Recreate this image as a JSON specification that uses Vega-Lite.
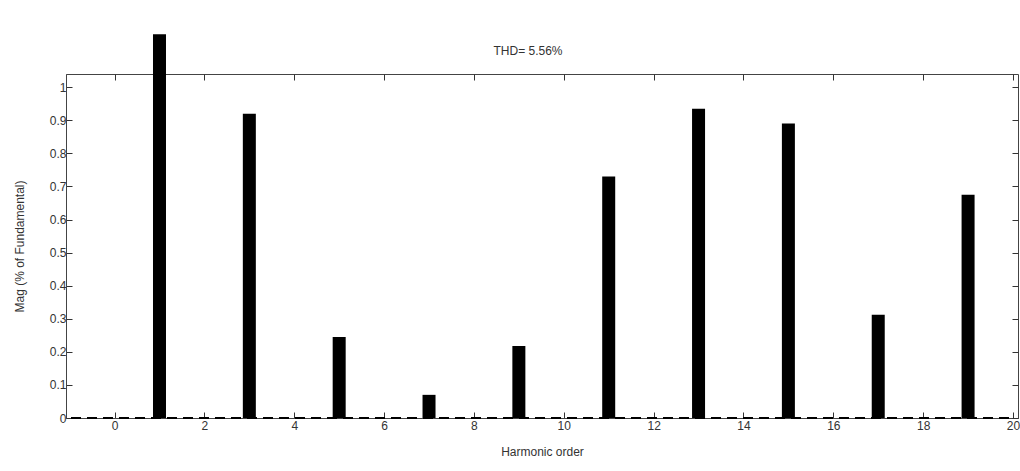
{
  "$schema": "https://vega.github.io/schema/vega-lite/v6.json",
  "width": 952,
  "height": 344,
  "autosize": {"type": "none"},
  "padding": {"left": 66, "top": 74, "right": 2, "bottom": 53},
  "background": "white",
  "config": {
    "font": "Liberation Sans",
    "view": {"stroke": "#444", "strokeWidth": 1},
    "axis": {"grid": false, "domainColor": "#444", "tickColor": "#333", "tickWidth": 1, "labelColor": "#333", "titleColor": "#333", "labelFontSize": 12, "titleFontSize": 12, "titleFontWeight": "normal", "tickSize": -6, "labelPadding": 6}
  },
  "title": {"text": "THD= 5.56%", "fontSize": 12, "fontWeight": "normal", "color": "#333", "font": "Liberation Sans", "offset": -24, "dx": -14},
  "data": {"values": [
    {"h": 1, "mag": 1.16},
    {"h": 3, "mag": 0.92},
    {"h": 5, "mag": 0.245},
    {"h": 7, "mag": 0.07},
    {"h": 9, "mag": 0.218},
    {"h": 11, "mag": 0.73},
    {"h": 13, "mag": 0.935},
    {"h": 15, "mag": 0.89},
    {"h": 17, "mag": 0.312},
    {"h": 19, "mag": 0.675}
  ]},
  "layer": [
    {
      "mark": {"type": "bar", "size": 13, "color": "black", "clip": false},
      "encoding": {
        "x": {"field": "h", "type": "quantitative", "scale": {"domain": [-0.97, 20], "nice": false, "zero": false},
              "axis": {"values": [0,2,4,6,8,10,12,14,16,18,20], "title": "Harmonic order", "titleY": 28, "labelPadding": 8}},
        "y": {"field": "mag", "type": "quantitative", "scale": {"domain": [0, 1.04], "nice": false},
              "axis": {"values": [0,0.1,0.2,0.3,0.4,0.5,0.6,0.7,0.8,0.9,1], "format": "~g", "title": "Mag (% of Fundamental)", "titleX": -40}}
      }
    },
    {
      "mark": {"type": "rule", "color": "black", "strokeDash": [10, 6], "strokeWidth": 1.5},
      "encoding": {
        "y": {"datum": 0, "type": "quantitative", "axis": {"orient": "right", "labels": false, "title": null, "values": [0,0.1,0.2,0.3,0.4,0.5,0.6,0.7,0.8,0.9,1], "domain": false}},
        "x": {"datum": -0.97, "type": "quantitative", "axis": {"orient": "top", "labels": false, "title": null, "values": [0,2,4,6,8,10,12,14,16,18,20], "domain": false}},
        "x2": {"datum": 20}
      }
    }
  ],
  "resolve": {"axis": {"x": "independent", "y": "independent"}}
}
